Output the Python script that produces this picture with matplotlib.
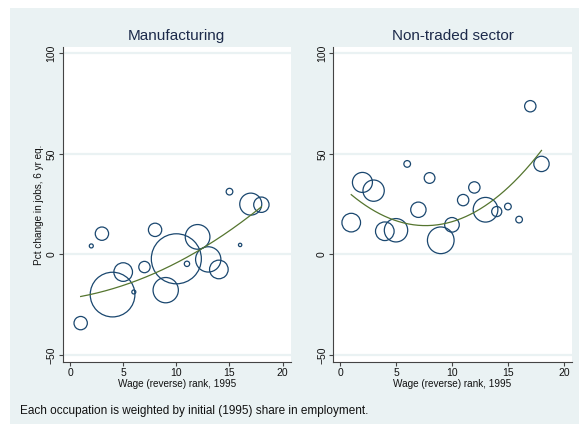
import numpy as np
import matplotlib
matplotlib.use('Agg')
import matplotlib.pyplot as plt
from matplotlib.patches import Rectangle

plt.rcParams['font.family'] = ['Liberation Sans', 'DejaVu Sans']

# wage rank (reverse), 1995
rank = np.arange(1, 19)

# Manufacturing: pct change in jobs and 1995 employment share
mfg_change = [-34.2, 4.2, 10.3, -20.0, -8.8, -18.7, -6.3, 12.2, -17.8,
              -2.2, -4.7, 8.7, -2.5, -7.5, 31.2, 4.7, 25.0, 24.7]
mfg_share = [4.0, 0.36, 4.0, 44.9, 7.8, 0.36, 2.9, 4.0, 14.4,
             56.3, 0.64, 13.7, 14.4, 7.8, 1.0, 0.25, 10.9, 5.3]

# Non-traded sector
nts_change = [15.8, 35.8, 31.7, 11.5, 12.0, 45.0, 22.2, 38.0, 7.0,
              14.7, 27.0, 33.3, 22.2, 21.3, 23.8, 17.3, 73.7, 45.0]
nts_share = [7.8, 9.0, 10.2, 7.8, 12.3, 1.0, 5.3, 2.6, 16.0,
             4.8, 2.9, 2.9, 13.7, 2.3, 1.0, 1.0, 2.9, 5.3]

panels = [('Manufacturing', mfg_change, mfg_share),
          ('Non-traded sector', nts_change, nts_share)]

bg = '#eaf2f3'
navy = '#1a476f'
green = '#55752f'

fig = plt.figure(figsize=(5.79, 4.26), dpi=100)
fig.add_artist(Rectangle((10 / 579, 2 / 426), 1 - 10 / 579, 416 / 426,
                         transform=fig.transFigure, facecolor=bg,
                         edgecolor='none', zorder=-10))

positions = [[0.1083, 0.1509, 0.3938, 0.738],
             [0.5757, 0.1509, 0.4117, 0.738]]
xlims = [(-0.69, 20.76), (-0.6, 20.7)]

for i, (title, change, share) in enumerate(panels):
    ax = fig.add_axes(positions[i])
    ax.set_facecolor('white')
    y = np.array(change)
    w = np.array(share)

    for lvl in [-50, 0, 50, 100]:
        ax.axhline(lvl, color=bg, lw=1.6, zorder=1)

    ax.scatter(rank, y, s=23.04 * w, facecolors='none', edgecolors=navy,
               linewidths=0.9, zorder=3)

    # weighted quadratic fit
    coef = np.polyfit(rank, y, 2, w=np.sqrt(w))
    xx = np.linspace(rank.min(), rank.max(), 200)
    ax.plot(xx, np.polyval(coef, xx), color=green, lw=0.9, zorder=4)

    ax.set_xlim(*xlims[i])
    ax.set_ylim(-53.4, 103)
    ax.set_xticks([0, 5, 10, 15, 20])
    ax.set_yticks([-50, 0, 50, 100])
    for side in ['top', 'right']:
        ax.spines[side].set_visible(False)
    for side in ['left', 'bottom']:
        ax.spines[side].set_color('#444444')
        ax.spines[side].set_linewidth(0.8)
    ax.tick_params(length=3, width=0.8, color='#444444', labelsize=7.5,
                   pad=1.5, labelcolor='#111111')
    for lab in ax.get_yticklabels():
        lab.set_rotation(90)
        lab.set_va('center')
    ax.set_title(title, fontsize=11, color='#1c2a4a', pad=5)
    ax.set_xlabel('Wage (reverse) rank, 1995', fontsize=7.2, labelpad=1,
                  color='#111111')
    if i == 0:
        ax.set_ylabel('Pct change in jobs, 6 yr eq.', fontsize=7.2,
                      labelpad=2, color='#111111')

fig.text(20 / 579, 1 - 411 / 426,
         'Each occupation is weighted by initial (1995) share in employment.',
         fontsize=8.5, va='center', ha='left', color='#111111')

fig.savefig('out.png', dpi=100)
